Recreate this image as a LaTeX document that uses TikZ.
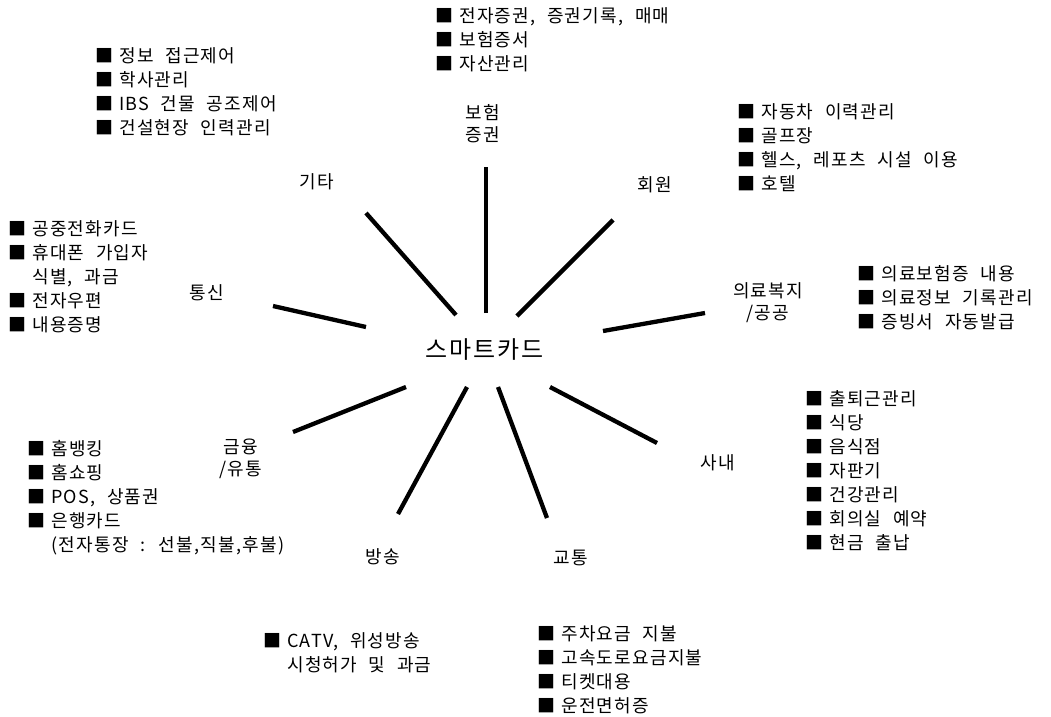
\documentclass[tikz,border=0pt]{standalone}
\usepackage{fontspec}
\setmainfont{Noto Sans CJK KR}[LetterSpace=7,WordSpace=2.2]
\newcommand\firstln{\rule{0pt}{17pt}}
\newcommand\bul{■\hspace{6pt}}
\newcommand\ind{\phantom{■}\hspace{6pt}}
\begin{document}
\begin{tikzpicture}[x=1pt,y=-1pt,
  spoke/.style={line width=4.3pt},
  cat/.style={inner sep=0pt,align=center,font=\fontsize{18}{22}\selectfont},
  items/.style={inner sep=0pt,align=left,anchor=north west,font=\fontsize{18}{24}\selectfont}]
\useasboundingbox[fill=white] (0,0) rectangle (1051,716);
% centre
\node[inner sep=0pt,font=\fontsize{24}{26}\selectfont\addfontfeature{LetterSpace=8}] (card) at (485,350) {스마트카드};
% category labels
\node[cat] (bohum) at (483,124) {보험\\증권};
\node[cat] (gita) at (317,182) {기타};
\node[cat] (hoewon) at (655,185) {회원};
\node[cat] (uiryo) at (768,303) {의료복지\\/공공};
\node[cat] (tongsin) at (207,293) {통신};
\node[cat] (sanae) at (718,463) {사내};
\node[cat] (geumyung) at (241,459) {금융\\/유통};
\node[cat] (bangsong) at (383,557) {방송};
\node[cat] (gyotong) at (571,558) {교통};
% spoke ends
\coordinate (b1) at (486,313); \coordinate (b2) at (486,167);
\coordinate (g1) at (456,315); \coordinate (g2) at (366,213);
\coordinate (h1) at (517,316); \coordinate (h2) at (613,220);
\coordinate (u1) at (603,331); \coordinate (u2) at (705,313);
\coordinate (t1) at (366,327); \coordinate (t2) at (273,306);
\coordinate (k1) at (406,387); \coordinate (k2) at (293,432);
\coordinate (s1) at (467,387); \coordinate (s2) at (398,514);
\coordinate (y1) at (498,387); \coordinate (y2) at (547,518);
\coordinate (n1) at (550,387); \coordinate (n2) at (657,443);
\foreach \a/\b in {b1/b2,g1/g2,h1/h2,u1/u2,t1/t2,k1/k2,s1/s2,y1/y2,n1/n2}
  \draw[spoke] (\a) -- (\b);
% item lists
\node[items] (topl) at (435,5) {\firstln\bul 전자증권, 증권기록, 매매\\\bul 보험증서\\\bul 자산관리};
\node[items] (gital) at (95,45) {\firstln\bul 정보 접근제어\\\bul 학사관리\\\bul IBS 건물 공조제어\\\bul 건설현장 인력관리};
\node[items] (hoewonl) at (737,101) {\firstln\bul 자동차 이력관리\\\bul 골프장\\\bul 헬스, 레포츠 시설 이용\\\bul 호텔};
\node[items] (tongsinl) at (8,218) {\firstln\bul 공중전화카드\\\bul 휴대폰 가입자\\\ind 식별, 과금\\\bul 전자우편\\\bul 내용증명};
\node[items] (uiryol) at (857,263) {\firstln\bul 의료보험증 내용\\\bul 의료정보 기록관리\\\bul 증빙서 자동발급};
\node[items] (sanael) at (805,388) {\firstln\bul 출퇴근관리\\\bul 식당\\\bul 음식점\\\bul 자판기\\\bul 건강관리\\\bul 회의실 예약\\\bul 현금 출납};
\node[items] (geumyungl) at (27,438) {\firstln\bul 홈뱅킹\\\bul 홈쇼핑\\\bul POS, 상품권\\\bul 은행카드\\\ind(전자통장 : 선불,직불,후불)};
\node[items] (bangsongl) at (263,630) {\firstln\bul CATV, 위성방송\\\ind 시청허가 및 과금};
\node[items] (gyotongl) at (537,623) {\firstln\bul 주차요금 지불\\\bul 고속도로요금지불\\\bul 티켓대용\\\bul 운전면허증};
\end{tikzpicture}
\end{document}
